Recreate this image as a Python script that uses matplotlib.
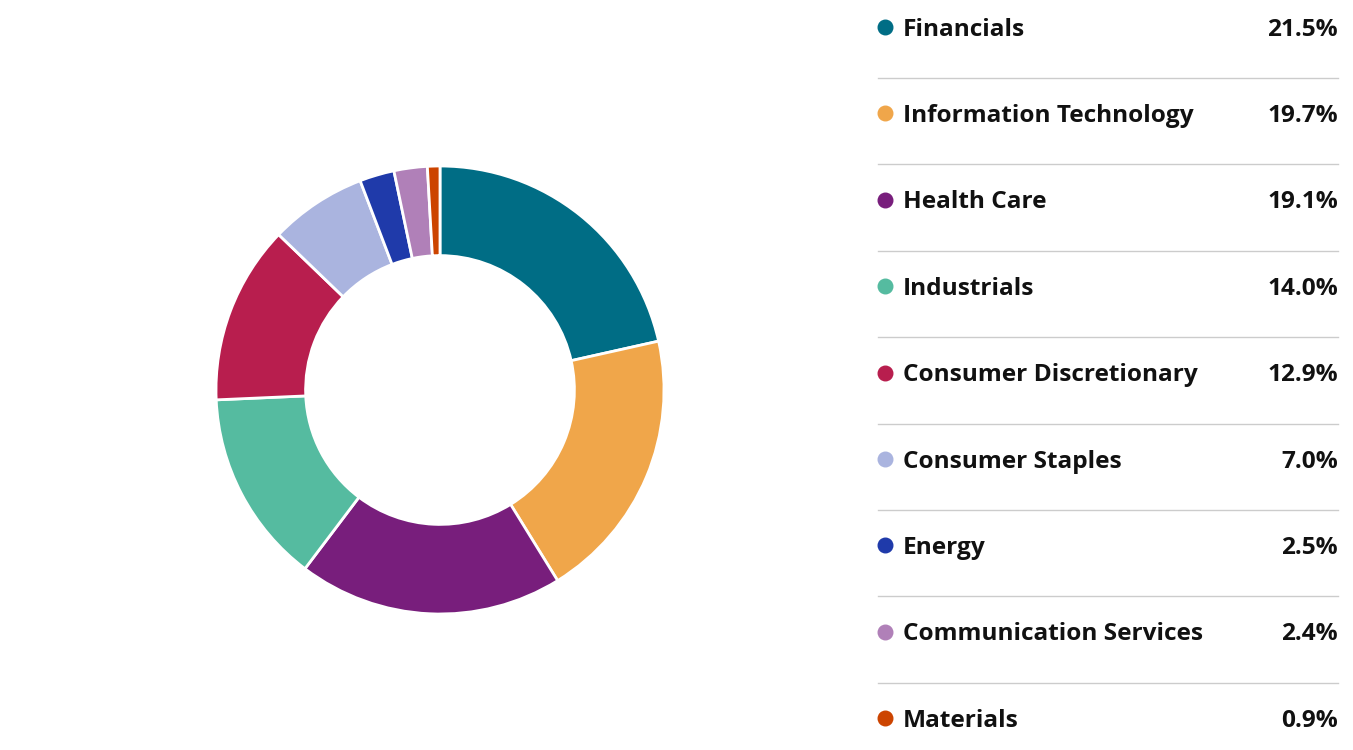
import matplotlib
matplotlib.use('Agg')
import matplotlib.pyplot as plt

sectors = ['Financials', 'Information Technology', 'Health Care', 'Industrials',
           'Consumer Discretionary', 'Consumer Staples', 'Energy',
           'Communication Services', 'Materials']
weights = [21.5, 19.7, 19.1, 14.0, 12.9, 7.0, 2.5, 2.4, 0.9]
colors = ['#006d85', '#f0a64a', '#781e7c', '#55bba0', '#b81e4e',
          '#aab4df', '#1f3aaa', '#b080b8', '#cc4400']

W, H = 1353, 750
fig = plt.figure(figsize=(W / 100, H / 100), dpi=100)

# donut
cx, cy, r = 440, 390, 224
ax = fig.add_axes([(cx - r) / W, (H - cy - r) / H, 2 * r / W, 2 * r / H])
ax.pie(weights, colors=colors, startangle=90, counterclock=False,
       wedgeprops=dict(width=0.4, edgecolor='white', linewidth=2))
ax.set_xlim(-1, 1)
ax.set_ylim(-1, 1)
ax.set_aspect('equal')

# legend table
lg = fig.add_axes([0, 0, 1, 1])
lg.set_xlim(0, W)
lg.set_ylim(H, 0)
lg.axis('off')
y0, step = 27, 86.4
for i, (name, val, c) in enumerate(zip(sectors, weights, colors)):
    y = y0 + i * step
    lg.scatter([885], [y], s=110, color=c, zorder=3)
    lg.text(903, y + 2.5, name, fontsize=17.6, fontweight='bold', color='#111111',
            va='center', ha='left', family='Open Sans')
    lg.text(1338, y + 2.5, f'{val:.1f}%', fontsize=17.6, fontweight='bold', color='#111111',
            va='center', ha='right', family='Open Sans')
    if i < len(sectors) - 1:
        lg.plot([878, 1338], [y + 51, y + 51], color='#cccccc', lw=1)

fig.savefig('out.png', dpi=100, facecolor='white')
